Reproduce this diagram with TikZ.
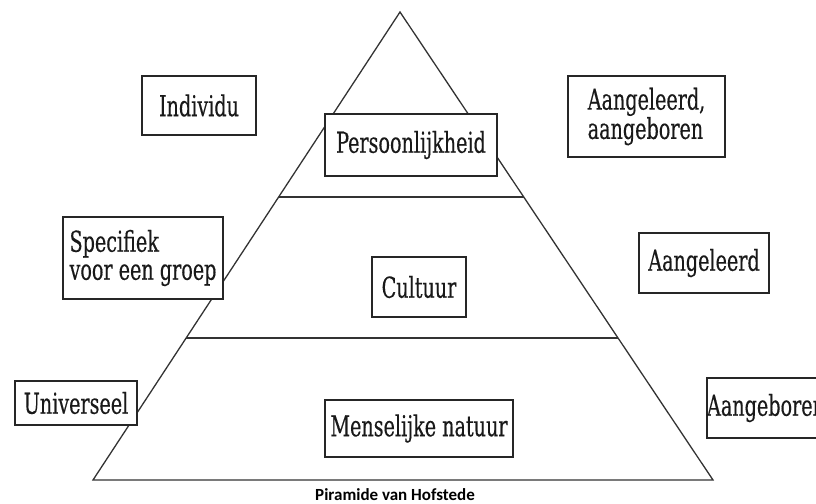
\documentclass[tikz,border=0pt]{standalone}
\usepackage{fontspec}
\usetikzlibrary{calc}
\newfontfamily\slabfont[FakeStretch=0.74,FakeBold=0.3]{DejaVu Serif Condensed}
\newfontfamily\capfont{Carlito}
\tikzset{layer/.style = {line width=1.3pt, draw=black!80}}
\tikzset{hofbox/.style = {draw=black!85, line width=1.3pt, fill=white, inner sep=0pt,
  align=left, text=black!90, font=\slabfont\fontsize{28.8}{28}\selectfont}}

\begin{document}
\begin{tikzpicture}[x=1pt,y=-1pt]
\useasboundingbox (0,0) rectangle (816,503);
\clip (0,0) rectangle (816,503);
\coordinate (top) at (400,12);
\coordinate (bl) at (93,480);
\coordinate (br) at (713,480);
\coordinate (l1) at ($(top)!0.395!(bl)$);
\coordinate (r1) at ($(top)!0.395!(br)$);
\coordinate (l2) at ($(top)!0.6966!(bl)$);
\coordinate (r2) at ($(top)!0.6966!(br)$);
\draw[layer] (top) -- (bl) -- (br) -- cycle;
\draw[layer] (l1) -- (r1);
\draw[layer] (l2) -- (r2);
\node[hofbox, minimum width=114pt, minimum height=59pt] (individu) at (199,105.5) {Individu};
\node[hofbox, minimum width=172pt, minimum height=62pt] (persoon) at (411,145) {Persoonlijkheid};
\node[hofbox, minimum width=157pt, minimum height=81pt] (beide) at (646.5,116.5) {Aangeleerd,\\aangeboren};
\node[hofbox, minimum width=160pt, minimum height=82pt] (groep) at (143,258) {Specifiek\\voor een groep};
\node[hofbox, minimum width=94pt, minimum height=60pt] (cultuur) at (419,287) {Cultuur};
\node[hofbox, minimum width=130pt, minimum height=60pt] (geleerd) at (704,263) {Aangeleerd};
\node[hofbox, minimum width=122pt, minimum height=44pt] (univ) at (76,403) {Universeel};
\node[hofbox, minimum width=188pt, minimum height=57pt] (natuur) at (419,428.5) {Menselijke natuur};
\node[hofbox, minimum width=116pt, minimum height=60pt] (geboren) at (766,408) {Aangeboren};
\node[anchor=base, inner sep=0pt, font=\capfont\bfseries\fontsize{17}{17}\selectfont] (caption) at (395,500) {Piramide van Hofstede};
\end{tikzpicture}
\end{document}
